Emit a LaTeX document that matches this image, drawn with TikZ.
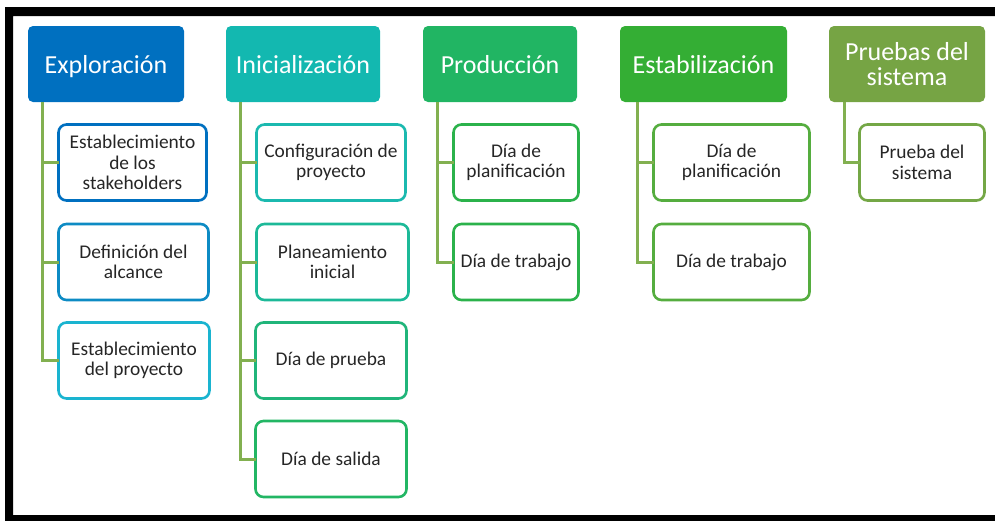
\documentclass[tikz,border=0pt]{standalone}
\usepackage{fontspec}
\setmainfont{Carlito}
\definecolor{cE}{HTML}{0070C0}
\definecolor{cI}{HTML}{13B8B0}
\definecolor{cP}{HTML}{21B563}
\definecolor{cS}{HTML}{34AE34}
\definecolor{cT}{HTML}{76A444}
\definecolor{b1}{HTML}{0070C0}
\definecolor{b2}{HTML}{0D8BC4}
\definecolor{b3}{HTML}{1AB4D0}
\definecolor{b4}{HTML}{1BB9AF}
\definecolor{b5}{HTML}{1CB998}
\definecolor{b6}{HTML}{20B57A}
\definecolor{b7}{HTML}{22B664}
\definecolor{b8}{HTML}{2BB24B}
\definecolor{b9}{HTML}{55AD3F}
\definecolor{b10}{HTML}{74A746}
\definecolor{conn}{HTML}{82B050}
\definecolor{txt}{HTML}{262626}
\tikzset{
  hdr/.style={rounded corners=5pt, inner sep=0pt, outer sep=0pt, minimum height=76pt,
    text=white, align=center, font=\fontsize{26}{25.5}\selectfont},
  hdrone/.style={hdr, text height=18pt, text depth=0pt},
  kid/.style={draw, line width=2.6pt, fill=white, rounded corners=8pt, inner sep=0pt, outer sep=0pt,
    minimum height=76pt, text=txt, align=center, font=\fontsize{19.4}{20.5}\selectfont},
  link/.style={draw=conn, line width=3pt}
}
\begin{document}
\begin{tikzpicture}[x=1pt,y=-1pt]
\useasboundingbox (0,0) rectangle (995,520);
\clip (0,0) rectangle (995,520);
% frame
\fill[black,even odd rule] (5,7) rectangle (1010,530) (13,16) rectangle (1010,515);
% headers
\node[hdrone, fill=cE, minimum width=156pt] (E) at (106,64) {Exploración};
\node[hdrone, fill=cI, minimum width=154pt] (I) at (303,64) {Inicialización};
\node[hdrone, fill=cP, minimum width=154pt] (P) at (500,64) {Producción};
\node[hdrone, fill=cS, minimum width=167pt] (S) at (703.5,64) {Estabilización};
\node[hdr, fill=cT, minimum width=156pt] (T) at (907,64) {Pruebas del\\sistema};
% connector anchor points on the headers
\coordinate (eL) at ([xshift=14pt]E.south west);
\coordinate (iL) at ([xshift=14pt]I.south west);
\coordinate (pL) at ([xshift=14pt]P.south west);
\coordinate (sL) at ([xshift=17pt]S.south west);
\coordinate (tL) at ([xshift=15pt]T.south west);
% children
\node[kid, draw=b1, minimum width=148pt] (e1) at (132.5,162.5) {Establecimiento\\de los\\stakeholders};
\node[kid, draw=b2, minimum width=150pt] (e2) at (133.5,262) {Definición del\\alcance};
\node[kid, draw=b3, minimum width=151pt] (e3) at (134,360.5) {Establecimiento\\del proyecto};
\node[kid, draw=b4, minimum width=149pt] (i1) at (331,162.5) {Configuración de\\proyecto};
\node[kid, draw=b5, minimum width=152pt] (i2) at (332.5,262) {Planeamiento\\inicial};
\node[kid, draw=b6, minimum width=151pt] (i3) at (331,360.5) {Día de prueba};
\node[kid, draw=b7, minimum width=151pt] (i4) at (331,459) {Día de salida};
\node[kid, draw=b8, minimum width=125pt] (p1) at (516,162.5) {Día de\\planificación};
\node[kid, draw=b8, minimum width=125pt] (p2) at (516,262) {Día de trabajo};
\node[kid, draw=b9, minimum width=156pt] (s1) at (731.5,162.5) {Día de\\planificación};
\node[kid, draw=b9, minimum width=156pt] (s2) at (731.5,262) {Día de trabajo};
\node[kid, draw=b10, minimum width=125pt] (t1) at (922,162.5) {Prueba del\\sistema};
% connectors
\draw[link] (eL) |- (e3.west);
\draw[link] (e1.west) -- (e1.west -| eL);
\draw[link] (e2.west) -- (e2.west -| eL);
\draw[link] (iL) |- (i4.west);
\draw[link] (i1.west) -- (i1.west -| iL);
\draw[link] (i2.west) -- (i2.west -| iL);
\draw[link] (i3.west) -- (i3.west -| iL);
\draw[link] (pL) |- (p2.west);
\draw[link] (p1.west) -- (p1.west -| pL);
\draw[link] (sL) |- (s2.west);
\draw[link] (s1.west) -- (s1.west -| sL);
\draw[link] (tL) |- (t1.west);
\end{tikzpicture}
\end{document}
